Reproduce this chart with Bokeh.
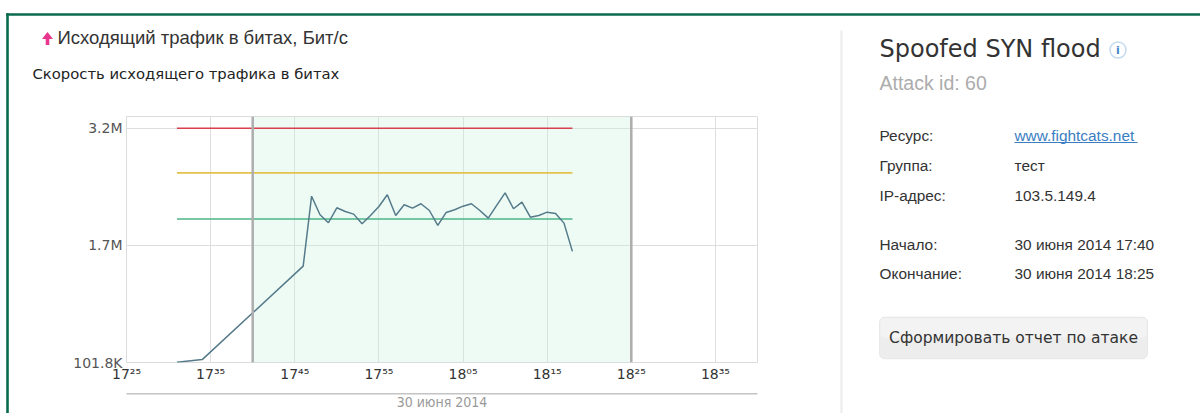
from bokeh.plotting import figure
from bokeh.models import Range1d, FixedTicker, Label, BoxAnnotation, Span
from bokeh.embed import file_html
from bokeh.resources import INLINE

# ---------------- data ----------------
times = ["17:31", "17:34", "17:46",
         "17:47", "17:48", "17:49", "17:50", "17:51", "17:52", "17:53", "17:54",
         "17:55", "17:56", "17:57", "17:58", "17:59", "18:00", "18:01", "18:02",
         "18:03", "18:04", "18:05", "18:06", "18:07", "18:08", "18:09", "18:10",
         "18:11", "18:12", "18:13", "18:14", "18:15", "18:16", "18:17", "18:18"]
traffic_bps = [105000, 140000, 1376000,
               2301000, 2056000, 1950000, 2148000, 2099000, 2064000, 1937000, 2046000,
               2165000, 2320000, 2046000, 2188000, 2143000, 2201000, 2112000, 1914000,
               2086000, 2122000, 2169000, 2201000, 2112000, 2011000, 2179000, 2346000,
               2135000, 2222000, 2024000, 2046000, 2090000, 2073000, 1945000, 1571000]

threshold_span = ["17:31", "18:18"]
threshold_red = 3200000
threshold_yellow = 2610000
threshold_green = 2000000

attack_start = "17:40"
attack_end = "18:25"
x_window = ["17:25", "18:40"]

x_tick_times = ["17:25", "17:35", "17:45", "17:55", "18:05", "18:15", "18:25", "18:35"]
x_tick_labels = ["17²⁵", "17³⁵", "17⁴⁵", "17⁵⁵", "18⁰⁵", "18¹⁵", "18²⁵", "18³⁵"]
y_ticks = [101800, 1650000, 3200000]
y_tick_labels = ["101.8K", "1.7M", "3.2M"]
y_top = 3355000

date_label = "30 июня 2014"
chart_title = "Исходящий трафик в битах, Бит/с"
chart_subtitle = "Скорость исходящего трафика в битах"

attack_name = "Spoofed SYN flood"
attack_id = "Attack id: 60"
info_keys = ["Ресурс:", "Группа:", "IP-адрес:", "Начало:", "Окончание:"]
info_vals = ["www.fightcats.net", "тест", "103.5.149.4", "30 июня 2014 17:40", "30 июня 2014 18:25"]
button_text = "Сформировать отчет по атаке"


def minutes(t):
    h, m = t.split(":")
    return int(h) * 60 + int(m)


x = [minutes(t) for t in times]

W, H = 1200, 413
FL, FT, FR, FB = 126, 116, 757, 362
ABS = {"position": "absolute", "left": "0px", "top": "0px"}

# ---------------- page background (decorations) ----------------
bg = figure(width=W, height=H, output_backend="svg", toolbar_location=None,
            x_range=Range1d(0, W), y_range=Range1d(H, 0),
            x_axis_location=None, y_axis_location=None,
            min_border=0, min_border_left=0, min_border_right=0,
            min_border_top=0, min_border_bottom=0, styles=ABS)
bg.grid.visible = False
bg.outline_line_color = None
bg.background_fill_color = "white"
bg.border_fill_color = "white"


def text(t, px, py, size, color, font="Liberation Sans", align="left", style="normal"):
    bg.add_layout(Label(x=px, y=py, text=t, text_font=font, text_font_size=f"{size}px",
                        text_color=color, text_align=align, text_baseline="middle",
                        text_font_style=style))


def box(x0, y0, x1, y1, fill, line=None, lw=1, radius=0):
    bg.add_layout(BoxAnnotation(left=x0, right=x1, top=y0, bottom=y1,
                                fill_color=fill if fill else "white",
                                fill_alpha=1 if fill else 0,
                                line_color=line, line_width=lw, border_radius=radius))


# green frame
box(5.7, 12.7, 1200, 15.3, "#0a6a4f")
box(5.7, 12.7, 8.3, 413, "#0a6a4f")
# divider
box(840, 30, 842, 413, "#ececec")
# date axis line
box(126, 392.6, 757, 394, "#c4c4c4")

# title arrow
bg.patch([47, 52.5, 48.8, 48.8, 45.2, 45.2, 41.5],
         [31.5, 38.5, 38.5, 44.5, 44.5, 38.5, 38.5],
         fill_color="#e8358e", line_color=None)
text(chart_title, 57, 37.3, 18.5, "#333333")
text(chart_subtitle, 32, 72.8, 14.8, "#222222", font="DejaVu Sans")

# right panel
text(attack_name, 879, 48.5, 24, "#333333", font="DejaVu Sans")
box(1109.5, 41.5, 1125.5, 57.5, None, line="#3d87c9", lw=1.5, radius=8)
text("i", 1117.5, 49.8, 11, "#3d87c9", font="DejaVu Sans", align="center", style="bold")
text(attack_id, 879, 82, 19.5, "#acacac")
key_y = [134.8, 165, 195, 243.8, 273.3]
for k, v, yy in zip(info_keys, info_vals, key_y):
    text(k, 879, yy, 15.4, "#333333")
    text(v, 1014, yy, 15.4, "#3a7dc2" if v.startswith("www") else "#333333")
box(1014, 141.4, 1137, 142.4, "#3a7dc2")
box(879, 316.7, 1147, 358.3, "#ededed", line="#c8c8c8", lw=1, radius=5)
box(880, 317.7, 1146, 337, "#f3f3f3", radius=4)
text(button_text, 1013, 337.5, 15.5, "#333333", font="DejaVu Sans", align="center")

# ---------------- chart ----------------
p = figure(width=W, height=H, output_backend="svg", toolbar_location=None,
           title=None,
           x_range=Range1d(minutes(x_window[0]), minutes(x_window[1])),
           y_range=Range1d(y_ticks[0], y_top),
           min_border_left=FL, min_border_top=FT,
           min_border_right=W - FR, min_border_bottom=H - FB,
           styles=ABS)
p.background_fill_color = "white"
p.border_fill_color = None
p.border_fill_alpha = 0
p.outline_line_color = "#dcdcdc"
p.outline_line_width = 1

xt = [minutes(t) for t in x_tick_times]
p.xaxis.ticker = FixedTicker(ticks=xt)
p.xaxis.major_label_overrides = {k: v for k, v in zip(xt, x_tick_labels)}
p.yaxis.ticker = FixedTicker(ticks=y_ticks)
p.yaxis.major_label_overrides = {k: v for k, v in zip(y_ticks, y_tick_labels)}
for ax in (p.xaxis[0], p.yaxis[0]):
    ax.axis_line_color = None
    ax.major_tick_line_color = None
    ax.minor_tick_line_color = None
    ax.major_tick_out = 0
    ax.major_tick_in = 0
    ax.major_label_text_font = "DejaVu Sans"
    ax.major_label_text_font_size = "14px"
p.xaxis.major_label_text_color = "#333333"
p.yaxis.major_label_text_color = "#555555"
p.xaxis.major_label_standoff = 3
p.yaxis.major_label_standoff = 4
p.xaxis.axis_label = date_label
p.xaxis.axis_label_text_font = "DejaVu Sans Condensed"
p.xaxis.axis_label_text_font_size = "14px"
p.xaxis.axis_label_text_font_style = "normal"
p.xaxis.axis_label_text_color = "#9a9a9a"
p.xaxis.axis_label_standoff = 9

p.xgrid.grid_line_color = "#dedede"
p.ygrid.grid_line_color = "#dedede"

# attack window
p.add_layout(BoxAnnotation(left=minutes(attack_start), right=minutes(attack_end),
                           fill_color="#c4f3da", fill_alpha=0.3, line_color=None,
                           level="underlay"))
for t in (attack_start, attack_end):
    p.add_layout(Span(location=minutes(t), dimension="height",
                      line_color="#adadad", line_width=2.5))

# thresholds
tx = [minutes(t) for t in threshold_span]
p.line(tx, [threshold_red] * 2, line_color="#d8404c", line_width=1.6)
p.line(tx, [threshold_yellow] * 2, line_color="#e2c24a", line_width=1.6)
p.line(tx, [threshold_green] * 2, line_color="#4db487", line_width=1.6)

# traffic
p.line(x, traffic_bps, line_color="#557a8a", line_width=1.5)

open("out.html", "w").write(file_html([bg, p], INLINE, title="traffic"))
